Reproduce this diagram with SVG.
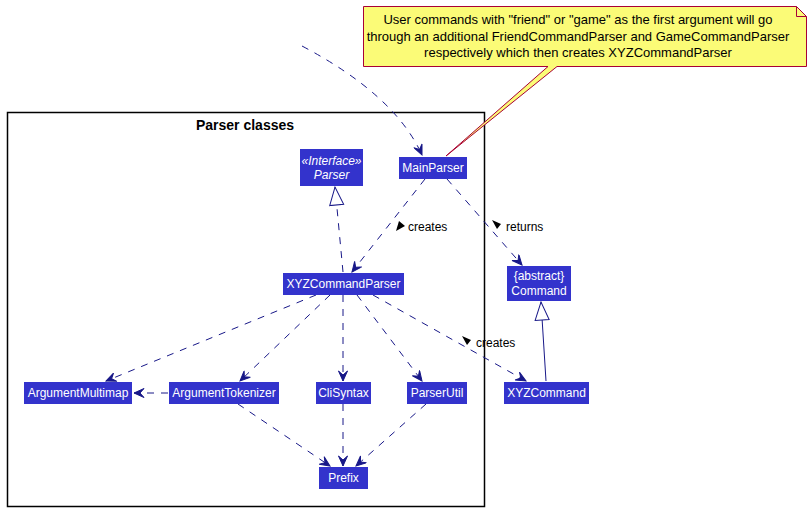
<svg xmlns="http://www.w3.org/2000/svg" width="811" height="511" viewBox="0 0 811 511">
<defs>
<style>
.node rect{fill:#3333CC;}
.node text{fill:#FFFFFF;font-family:"Liberation Sans",Arial,sans-serif;font-size:12px;text-anchor:middle;}
.it{font-style:italic;}
.e{fill:none;stroke:#181888;stroke-width:1;stroke-dasharray:7,7;}
.s{fill:none;stroke:#181888;stroke-width:1;}
.lbl{font-family:"Liberation Sans",Arial,sans-serif;font-size:12px;fill:#000;}
.note text{font-family:"Liberation Sans",Arial,sans-serif;font-size:13px;fill:#000;text-anchor:middle;}
</style>
<marker id="arr" viewBox="0 0 12 10" refX="11" refY="5" markerWidth="12" markerHeight="10" orient="auto" markerUnits="userSpaceOnUse">
<path d="M1,0.5 L11,5 L1,9.5 L5,5 Z" fill="#181888" stroke="#181888" stroke-width="1"/>
</marker>
<marker id="tri" viewBox="0 0 20 16" refX="19" refY="8" markerWidth="20" markerHeight="16" orient="auto" markerUnits="userSpaceOnUse">
<path d="M1,1 L19,8 L1,15 Z" fill="#FFFFFF" stroke="#181888" stroke-width="1"/>
</marker>
</defs>
<rect width="811" height="511" fill="#FFFFFF"/>

<g id="frame">
<rect x="7.5" y="112.5" width="477" height="394" fill="none" stroke="#000" stroke-width="1.5"/>
<text x="245" y="130" font-family="Liberation Sans,Arial,sans-serif" font-size="14" font-weight="bold" text-anchor="middle">Parser classes</text>
</g>

<g id="note" class="note">
<path d="M363.5,6.5 L796.5,6.5 L806.5,16.5 L806.5,66.5 L557,66.5 L446,156 L548,66.5 L363.5,66.5 Z" fill="#FBFB77" stroke="#A80036" stroke-width="1"/>
<path d="M796.5,6.5 L796.5,16.5 L806.5,16.5" fill="none" stroke="#A80036" stroke-width="1"/>
<text x="578" y="24">User commands with "friend" or "game" as the first argument will go</text>
<text x="578" y="40.5">through an additional FriendCommandParser and GameCommandParser</text>
<text x="578" y="57">respectively which then creates XYZCommandParser</text>
</g>

<g id="connectors">
<path class="e" d="M302,46 Q395,95 422,155" marker-end="url(#arr)"/>
<path class="e" d="M425,179 L352,272" marker-end="url(#arr)"/>
<path class="e" d="M447,179 L522,265" marker-end="url(#arr)"/>
<path class="e" d="M343,272 L335,187" marker-end="url(#tri)"/>
<path class="e" d="M316,295 L106,381" marker-end="url(#arr)"/>
<path class="e" d="M330,295 L240,381" marker-end="url(#arr)"/>
<path class="e" d="M343,295 L343,381" marker-end="url(#arr)"/>
<path class="e" d="M357,295 L422,381" marker-end="url(#arr)"/>
<path class="e" d="M373,295 L526,381" marker-end="url(#arr)"/>
<path class="e" d="M168,393 L134,393" marker-end="url(#arr)"/>
<path class="e" d="M238,404 L330,466" marker-end="url(#arr)"/>
<path class="e" d="M343,404 L343,466" marker-end="url(#arr)"/>
<path class="e" d="M426,404 L356,466" marker-end="url(#arr)"/>
<path class="s" d="M546,381 L541,302" marker-end="url(#tri)"/>
<path d="M396,231 L399,221 L405,226 Z" fill="#000"/>
<text class="lbl" x="408" y="231">creates</text>
<path d="M492,220 L501,224 L497,229 Z" fill="#000"/>
<text class="lbl" x="506" y="231">returns</text>
<path d="M462,336 L471,340 L467,345 Z" fill="#000"/>
<text class="lbl" x="476" y="347">creates</text>
</g>

<g id="Parser" class="node">
<rect x="300" y="149" width="63" height="37"/>
<text x="331.5" y="165" class="it">«Interface»</text>
<text x="331.5" y="179" class="it">Parser</text>
</g>
<g id="MainParser" class="node">
<rect x="399" y="157" width="68" height="22"/>
<text x="433" y="172">MainParser</text>
</g>
<g id="XYZCommandParser" class="node">
<rect x="283" y="273" width="121" height="22"/>
<text x="343.5" y="288">XYZCommandParser</text>
</g>
<g id="Command" class="node">
<rect x="507" y="266" width="64" height="35"/>
<text x="539" y="280">{abstract}</text>
<text x="539" y="295">Command</text>
</g>
<g id="ArgumentMultimap" class="node">
<rect x="24" y="382" width="108" height="22"/>
<text x="78" y="397">ArgumentMultimap</text>
</g>
<g id="ArgumentTokenizer" class="node">
<rect x="169" y="382" width="110" height="22"/>
<text x="224" y="397">ArgumentTokenizer</text>
</g>
<g id="CliSyntax" class="node">
<rect x="316" y="382" width="55" height="22"/>
<text x="343.5" y="397">CliSyntax</text>
</g>
<g id="ParserUtil" class="node">
<rect x="407" y="382" width="60" height="22"/>
<text x="437" y="397">ParserUtil</text>
</g>
<g id="XYZCommand" class="node">
<rect x="504" y="382" width="85" height="22"/>
<text x="546.5" y="397">XYZCommand</text>
</g>
<g id="Prefix" class="node">
<rect x="319" y="467" width="49" height="22"/>
<text x="343.5" y="482">Prefix</text>
</g>
</svg>
